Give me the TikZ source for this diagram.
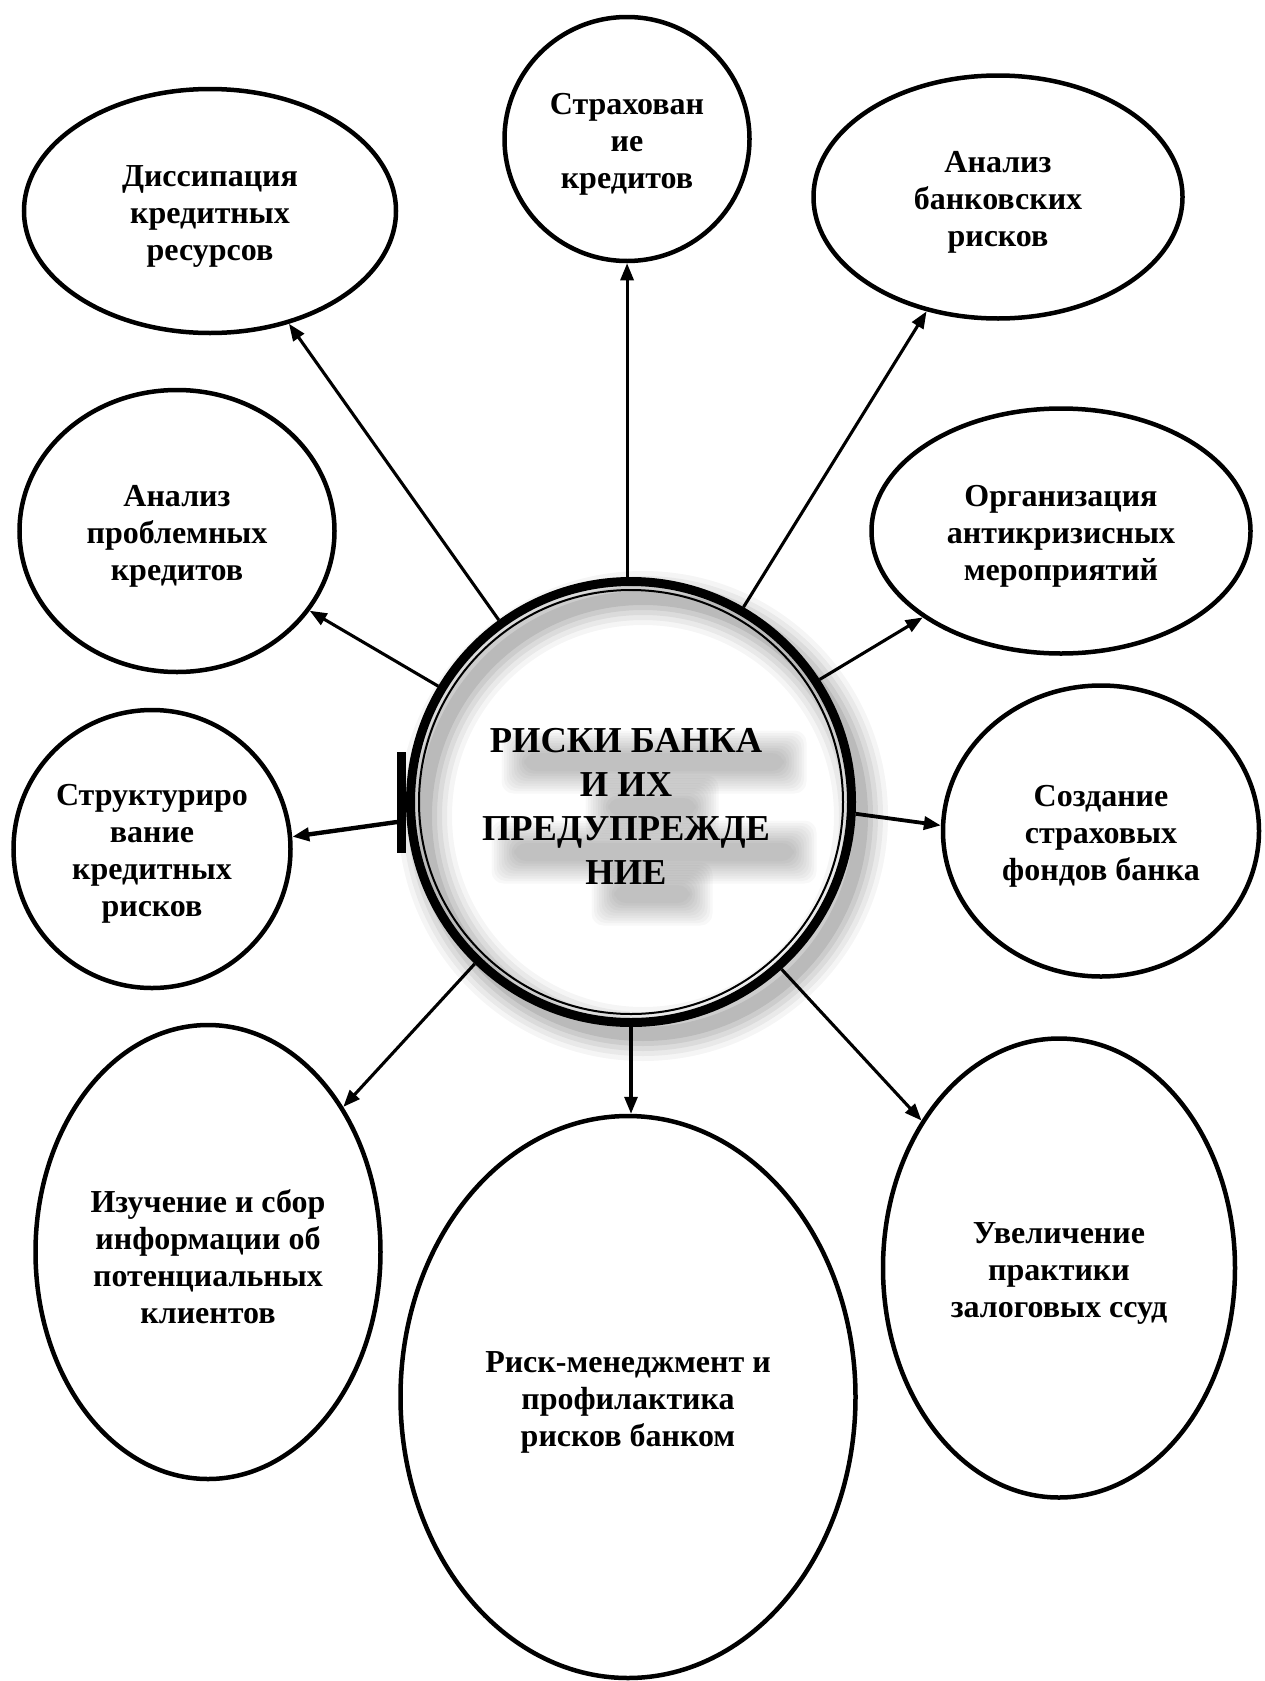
\documentclass[tikz,border=0pt]{standalone}
\usepackage{fontspec}
\setmainfont{Liberation Serif}
\usetikzlibrary{arrows.meta,shapes.geometric}

\begin{document}
\begin{tikzpicture}[x=1pt,y=-1pt,
  bubble/.style={ellipse, draw, line width=4.5pt, inner sep=0pt},
  lbl/.style={align=center, inner sep=0pt, yshift=-5pt,
    font=\bfseries\fontsize{32}{37}\selectfont},
  conn/.style={line width=3.1pt, -{Triangle[length=17pt,width=13pt]}},
  titlefont/.style={align=center, inner sep=0pt,
    font=\bfseries\fontsize{36.5}{44}\selectfont}
]
\useasboundingbox (0,0) rectangle (1264,1681);

% soft shadow of the central ring
\foreach \w/\o in {54/0.04, 44/0.05, 34/0.06, 24/0.07, 14/0.09}
  \draw[line width=\w pt, black, opacity=\o] (643,816) circle[radius=218pt];

% soft shadow under the lines of the central title
\foreach \cx/\cy/\hw in {654/762/130, 652/807/44, 654/852/140, 652/894/38}
  \foreach \k in {0,...,9}
    \fill[black, opacity=0.026, rounded corners=12pt]
      (\cx-\hw-2.5*\k, \cy-9-2.5*\k) rectangle (\cx+\hw+2.5*\k, \cy+9+2.5*\k);

% central circle
\node[circle, minimum size=450pt, inner sep=0pt, outer sep=0pt] (core) at (631,802) {};
\draw[line width=9pt] (core.center) circle[radius=220.5pt];
\draw[line width=2pt] (core.center) circle[radius=212pt];
\node[fill=black, minimum width=9pt, minimum height=101pt, inner sep=0pt, outer sep=0pt]
  (tab) at (401.5,802.5) {};
\node[titlefont] (title) at (626,806) {РИСКИ БАНКА\\И ИХ\\ПРЕДУПРЕЖДЕ\\НИЕ};

% surrounding measures
\node[bubble, minimum width=372pt, minimum height=244pt,
  label={[lbl]center:{Диссипация\\кредитных\\ресурсов}}] (dis) at (210,211) {};
\node[bubble, minimum width=245pt, minimum height=244pt,
  label={[lbl]center:{Страхован\\ие\\кредитов}}] (strah) at (627,139) {};
\node[bubble, minimum width=369pt, minimum height=243pt,
  label={[lbl]center:{Анализ\\банковских\\рисков}}] (bank) at (998,197) {};
\node[bubble, minimum width=315pt, minimum height=282pt,
  label={[lbl]center:{Анализ\\проблемных\\кредитов}}] (probl) at (177,531) {};
\node[bubble, minimum width=379pt, minimum height=245pt,
  label={[lbl]center:{Организация\\антикризисных\\мероприятий}}] (crisis) at (1061,531) {};
\node[bubble, minimum width=277pt, minimum height=278pt,
  label={[lbl]center:{Структуриро\\вание\\кредитных\\рисков}}] (struct) at (152,849) {};
\node[bubble, minimum width=316pt, minimum height=291pt,
  label={[lbl]center:{Создание\\страховых\\фондов банка}}] (funds) at (1101,831) {};
\node[bubble, minimum width=345pt, minimum height=454pt,
  label={[lbl]center:{Изучение и сбор\\информации об\\потенциальных\\клиентов}}] (study) at (208,1252) {};
\node[bubble, minimum width=455pt, minimum height=562pt,
  label={[lbl]center:{Риск-менеджмент и\\профилактика\\рисков банком}}] (mgmt) at (628,1397) {};
\node[bubble, minimum width=352pt, minimum height=459pt,
  label={[lbl]center:{Увеличение\\практики\\залоговых ссуд}}] (pledge) at (1059,1268) {};

% connectors
\draw[conn] (core.126) -- (dis.-55);
\draw[conn] (core.91) -- (core.91 |- strah.south);
\draw[conn] (core.60) -- (bank.-122);
\draw[conn] (core.33) -- (crisis.-148);
\draw[conn] (core.149) -- (probl.-31);
\draw[conn, line width=4.4pt] ([yshift=-19.5pt]tab.west) -- (struct.5);
\draw[conn, line width=3.8pt] (core.-3) -- (funds.178);
\draw[conn] (core.-134) -- (study.47);
\draw[conn] (core.-90) -- (core.-90 |- mgmt.north);
\draw[conn] (core.-48) -- (pledge.133);
\end{tikzpicture}
\end{document}
